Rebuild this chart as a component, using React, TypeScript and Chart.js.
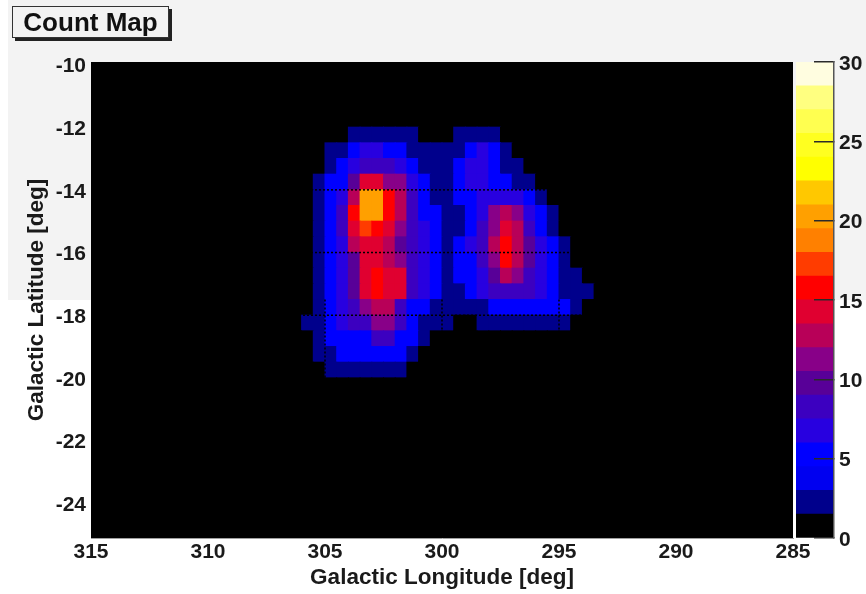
import React, { useEffect, useRef } from "react";
import { Chart, registerables } from "chart.js";

Chart.register(...registerables);

const longitudeTicks = [315, 310, 305, 300, 295, 290, 285];
const latitudeTicks = [-10, -12, -14, -16, -18, -20, -22, -24];
const colorbarTicks = [0, 5, 10, 15, 20, 25, 30];
const binSize = 0.5;
const columnCount = 60;
const rowCount = 32;
const firstRow = 5;
const firstColumn = 18;

// counts per bin, rows from latitude -12 downward, columns from longitude 306 downward
const countRows = [
  [0, 0, 0, 0, 2, 2, 2, 2, 2, 2, 0, 0, 0, 2, 2, 2, 2, 0, 0, 0, 0, 0, 0, 0, 0],
  [0, 0, 2, 2, 5, 6, 6, 5, 5, 2, 2, 2, 2, 2, 5, 6, 5, 2, 0, 0, 0, 0, 0, 0, 0],
  [0, 0, 2, 5, 6, 8, 8, 8, 6, 5, 2, 2, 2, 5, 6, 6, 5, 2, 2, 0, 0, 0, 0, 0, 0],
  [0, 2, 5, 5, 9, 14, 14, 11, 11, 6, 5, 2, 2, 5, 6, 6, 5, 5, 2, 2, 0, 0, 0, 0, 0],
  [0, 2, 5, 6, 12, 20, 20, 15, 12, 8, 5, 2, 2, 5, 5, 6, 6, 6, 6, 5, 2, 0, 0, 0, 0],
  [0, 2, 5, 8, 15, 20, 20, 15, 12, 8, 5, 5, 2, 2, 5, 6, 11, 12, 11, 6, 5, 2, 0, 0, 0],
  [0, 2, 5, 8, 14, 17, 15, 14, 11, 8, 6, 5, 2, 2, 5, 8, 11, 14, 12, 8, 5, 2, 0, 0, 0],
  [0, 2, 5, 6, 12, 14, 14, 12, 9, 8, 6, 5, 2, 5, 6, 8, 12, 15, 12, 9, 6, 5, 2, 0, 0],
  [0, 2, 5, 6, 9, 14, 14, 12, 11, 8, 6, 5, 2, 5, 5, 8, 11, 15, 12, 9, 6, 5, 2, 0, 0],
  [0, 2, 5, 6, 9, 14, 15, 14, 14, 8, 6, 5, 2, 5, 5, 6, 9, 12, 11, 8, 6, 5, 2, 2, 0],
  [0, 2, 5, 6, 9, 14, 15, 14, 14, 8, 6, 5, 2, 2, 5, 6, 8, 8, 8, 8, 6, 5, 2, 2, 2],
  [0, 2, 5, 6, 8, 11, 12, 12, 8, 5, 5, 2, 2, 2, 2, 2, 5, 5, 5, 5, 5, 5, 5, 2, 0],
  [2, 2, 5, 6, 8, 8, 11, 11, 8, 5, 2, 2, 2, 0, 0, 2, 2, 2, 2, 2, 2, 2, 2, 0, 0],
  [0, 2, 5, 5, 5, 5, 8, 8, 5, 5, 2, 0, 0, 0, 0, 0, 0, 0, 0, 0, 0, 0, 0, 0, 0],
  [0, 2, 2, 5, 5, 5, 5, 5, 5, 2, 0, 0, 0, 0, 0, 0, 0, 0, 0, 0, 0, 0, 0, 0, 0],
  [0, 0, 2, 2, 2, 2, 2, 2, 2, 0, 0, 0, 0, 0, 0, 0, 0, 0, 0, 0, 0, 0, 0, 0, 0],
];

const levelStep = 1.5;
const palette = [
  "#000000", "#00008c", "#0000f0", "#0000ff", "#2800e0",
  "#3c00c0", "#580098", "#880088", "#b80058", "#e00030",
  "#ff0000", "#ff3c00", "#ff8000", "#ffa000", "#ffc800",
  "#ffff00", "#ffff20", "#ffff50", "#ffff80", "#fffde0",
];

const dottedLatitudes = [-14, -16, -18];
const dottedLongitudes = [305, 300, 295];
const dottedLongitudeEnds = [-20, -18.5, -18.5];
const dottedLongitudeStart = -17.5;

const FONT = "'Liberation Sans', Arial, sans-serif";
const tickFont = { family: FONT, size: 21, weight: "bold" as const };
const titleFont = { family: FONT, size: 22.5, weight: "bold" as const };
const textColor = "#1a1a1a";

function buildCells() {
  const cells: { x: number; y: [number, number]; v: number }[] = [];
  for (let r = 0; r < rowCount; r++) {
    for (let c = 0; c < columnCount; c++) {
      const row = countRows[r - firstRow];
      const v = (row && row[c - firstColumn]) || 0;
      const top = -9.5 - r * binSize;
      cells.push({ x: 315 - c * binSize - binSize / 2, y: [top - binSize, top], v });
    }
  }
  return cells;
}

export default function App() {
  const mainRef = useRef<HTMLCanvasElement>(null);
  const barRef = useRef<HTMLCanvasElement>(null);

  useEffect(() => {
    const dotted = {
      type: "line" as const,
      borderColor: "#000000",
      borderWidth: 1.5,
      borderDash: [2, 2],
      pointRadius: 0,
      order: 0,
    };
    const main = new Chart(mainRef.current!, {
      type: "bar",
      data: {
        datasets: [
          {
            data: buildCells() as any,
            backgroundColor: (ctx: any) =>
              palette[Math.floor((ctx.raw?.v ?? 0) / levelStep)],
            borderWidth: 0,
            barThickness: 11.7,
            inflateAmount: 0.5,
            order: 1,
          } as any,
          ...dottedLatitudes.map((lat) => ({
            ...dotted,
            data: [
              { x: 315, y: lat },
              { x: 285, y: lat },
            ],
          })),
          ...dottedLongitudes.map((lon, i) => ({
            ...dotted,
            data: [
              { x: lon, y: dottedLongitudeStart },
              { x: lon, y: dottedLongitudeEnds[i] },
            ],
          })),
        ] as any,
      },
      options: {
        responsive: false,
        animation: false,
        events: [],
        layout: { padding: { top: 62, right: 73, left: 0, bottom: 0 } },
        plugins: { legend: { display: false }, tooltip: { enabled: false } },
        scales: {
          x: {
            type: "linear",
            reverse: true,
            min: 285,
            max: 315,
            offset: false,
            afterFit: (s: any) => {
              s.height = 56;
            },
            afterBuildTicks: (s: any) => {
              s.ticks = longitudeTicks.map((value) => ({ value }));
            },
            grid: { display: false },
            border: { display: true, color: "#a0a0a0", width: 1 },
            ticks: {
              font: tickFont,
              color: textColor,
              padding: -6,
              maxRotation: 0,
              autoSkip: false,
            },
            title: {
              display: true,
              text: "Galactic Longitude [deg]",
              font: titleFont,
              color: textColor,
              padding: { top: 0, bottom: 3 },
            },
          },
          y: {
            type: "linear",
            min: -25.11,
            max: -9.92,
            afterFit: (s: any) => {
              s.width = 91;
            },
            afterBuildTicks: (s: any) => {
              s.ticks = latitudeTicks.map((value) => ({ value }));
            },
            grid: { display: false },
            border: { display: true, color: "#a0a0a0", width: 1 },
            ticks: {
              font: tickFont,
              color: textColor,
              padding: -3,
              labelOffset: 2,
              autoSkip: false,
            },
            title: {
              display: true,
              text: "Galactic Latitude [deg]",
              font: titleFont,
              color: textColor,
              padding: { top: 23, bottom: 0 },
            },
          },
        },
      } as any,
    });

    const bar = new Chart(barRef.current!, {
      type: "bar",
      data: {
        labels: [""],
        datasets: palette.map((color, i) => ({
          data: [[i * levelStep, (i + 1) * levelStep]],
          backgroundColor: color,
          borderWidth: 0,
          grouped: false,
          barPercentage: 1,
          categoryPercentage: 1,
          inflateAmount: 0.4,
        })) as any,
      },
      options: {
        responsive: false,
        animation: false,
        events: [],
        layout: { padding: { top: 62, bottom: 56, left: 796, right: 0 } },
        plugins: { legend: { display: false }, tooltip: { enabled: false } },
        scales: {
          x: { display: false },
          y: {
            type: "linear",
            position: "right",
            min: 0,
            max: 30,
            afterFit: (s: any) => {
              s.width = 32;
            },
            afterBuildTicks: (s: any) => {
              s.ticks = colorbarTicks.map((value) => ({ value }));
            },
            grid: {
              drawOnChartArea: false,
              drawTicks: true,
              tickLength: -20,
              color: "#2a2a2a",
              lineWidth: 1.5,
              z: 1,
            },
            border: { display: true, color: "#555555", width: 1.5, z: 1 },
            ticks: { font: tickFont, color: textColor, padding: 25, labelOffset: 2, autoSkip: false },
          },
        },
      } as any,
    });

    return () => {
      main.destroy();
      bar.destroy();
    };
  }, []);

  const canvasStyle: React.CSSProperties = { position: "absolute", left: 0, top: 0, filter: "blur(0.5px)" };
  return (
    <div style={{ position: "absolute", left: 0, top: 0, width: 866, height: 594, overflow: "hidden", background: "#ffffff" }}>
      <div style={{ position: "absolute", left: 8, top: 0, width: 858, height: 300, background: "#f3f3f3" }} />
      <canvas ref={mainRef} width={866} height={594} style={canvasStyle} />
      <canvas ref={barRef} width={866} height={594} style={canvasStyle} />
      <div
        style={{
          position: "absolute",
          left: 12,
          top: 6,
          width: 155,
          height: 30,
          border: "1.5px solid #333",
          boxShadow: "3px 3px 0 #222",
          background: "#f3f3f3",
          font: `bold 26px ${FONT}`,
          color: "#111",
          textAlign: "center",
          lineHeight: "30px",
          filter: "blur(0.5px)",
        }}
      >
        Count Map
      </div>
    </div>
  );
}
